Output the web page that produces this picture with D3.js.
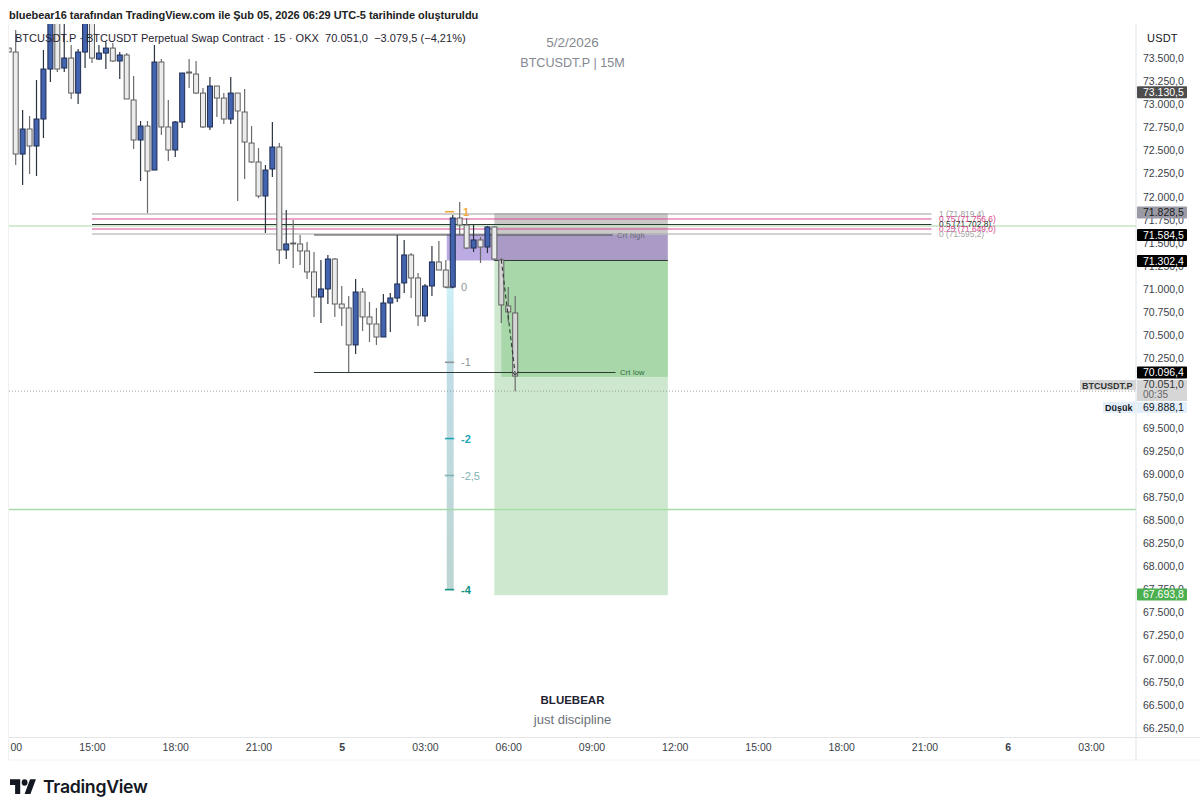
<!DOCTYPE html>
<html><head><meta charset="utf-8">
<script src="https://cdnjs.cloudflare.com/ajax/libs/d3/7.8.5/d3.min.js"></script>
<style>html,body{margin:0;padding:0;background:#fff}svg{display:block}text{font-family:"Liberation Sans",Arial,sans-serif}</style>
</head><body><svg id="c" width="1200" height="812"></svg>
<script>
const startTime = "2026-02-04T12:00:00Z";
const opens  = [73601,73558,72454,72725,72541,72833,73374,74000,73385,73493,73114,73558,74000,73482,73547,73601,73461,73526,73039,72606,72757,72281,73450,72747,72498,72801,73342,73320,73114,72747,73190,73060,72833,73114,72909,72573,72368,72000,72292,72530,71416,71491,71481,71405,71178,70907,70994,71318,70831,70788,70388,70961,70691,70615,70474,70842,70896,71059,71362,71113,70702,71026,71286,71199,71015,71762,71686,71437,71524,71448,71665,71308,70810,70734];
const highs  = [73601,73796,72931,72866,73255,73580,74100,74100,73861,73634,73591,74100,74100,73634,73666,73655,73558,73547,73298,72812,72812,73634,73482,73039,72812,73331,73482,73461,73169,73288,73190,73114,73288,73114,73158,72757,72519,72335,72801,72573,71849,71740,71578,71502,71394,71308,71362,71329,71026,70918,71102,71005,70853,70788,70940,70950,71578,71524,71383,71167,71048,71459,71513,71308,71794,71935,71762,71686,71556,71675,71675,71329,71015,70918];
const lows   = [73558,72335,72119,72238,72216,72628,73233,73342,73342,73050,72995,73385,73439,73472,73374,73450,73266,73050,72509,72162,71816,72281,72660,72379,72422,72736,73169,73104,72736,72714,72855,72779,72779,71946,72184,72357,71978,71600,72206,71264,71318,71221,71253,71102,70691,70626,70831,70691,70593,70096,70290,70539,70420,70388,70474,70528,70853,70950,70896,70593,70637,70918,71199,71005,71005,71578,71427,71394,71275,71383,71297,70626,70637,69888];
const closes = [73558,72454,72725,72541,72833,73374,74000,73374,73493,73114,73558,74000,73493,73547,73601,73461,73526,73050,72606,72757,72270,73450,72747,72498,72801,73331,73331,73114,72747,73190,73060,72833,73114,72920,72584,72368,72000,72281,72530,71416,71481,71481,71405,71178,70907,70994,71318,70831,70788,70388,70961,70691,70615,70474,70842,70896,71048,71362,71113,70702,71026,71286,71199,71015,71762,71686,71437,71524,71448,71665,71318,70821,70745,70051];

const yTicks = d3.range(66250, 73501, 250);
const hiddenTicks = [70000, 69750];
const timeTicks = ["2026-02-04T12:00Z","2026-02-04T15:00Z","2026-02-04T18:00Z","2026-02-04T21:00Z","2026-02-05T00:00Z","2026-02-05T03:00Z","2026-02-05T06:00Z","2026-02-05T09:00Z","2026-02-05T12:00Z","2026-02-05T15:00Z","2026-02-05T18:00Z","2026-02-05T21:00Z","2026-02-06T00:00Z","2026-02-06T03:00Z"];

const levelPrices = [71805,71751,71692,71643,71589];
const levelLabels = ["1 (71.819,4)","0.75 (71.756,6)","0.5 (71.702,8)","0.25 (71.649,0)","0 (71.595,2)"];
const levelColors = ["#9c9c9c","#d9488f","#2a3a2e","#d9488f","#a5a5a5"];
const fibLevels = [71830,71010,70200,69375,68975,67740];
const fibLabels = ["1","0","-1","-2","-2,5","-4"];
const fibColors = ["#f2a93b","#8f9598","#8f9598","#22a5b5","#7fb3b5","#12917f"];
const greenLevels = [71675,68607];
const greenColors = ["#c4e3c5","#a6dca8"];
const tagPrices = [73130.5,71828.5,71584.5,71302.4,70096.4,67693.8];
const tagFills = ["#4d4d4d","#9a9aa6","#000000","#000000","#000000","#4caf50"];
const tagInk = ["#fff","#1a1a1a","#fff","#fff","#fff","#fff"];
const crtPrices = [71584.5,70096.4];
const crtLabels = ["Crt high","Crt low"];
const lastPrice = 70051, lowPrice = 69888.1;

const W=1200,H=812,L=9,R=1136,T=24,B=737;
const svg=d3.select("#c");
const yS=d3.scaleLinear().domain([72000,67000]).range([196,658]);
const xS=d3.scaleUtc().domain([new Date("2026-02-04T15:00Z"),new Date("2026-02-05T03:00Z")]).range([92,425]);
const t0=new Date(startTime).getTime();
const times=opens.map((_,i)=>new Date(t0+i*9e5));
const tm=(s)=>new Date("2026-02-"+s+"Z");
const fmt=d3.formatLocale({decimal:",",thousands:".",grouping:[3],currency:["",""]}).format(",.1f");

const defs=svg.append("defs");
defs.append("clipPath").attr("id","pane").append("rect").attr("x",L).attr("y",T).attr("width",R-L).attr("height",B-T);
const g=defs.append("linearGradient").attr("id","fibg").attr("x1",0).attr("x2",0).attr("y1",0).attr("y2",1);
g.append("stop").attr("offset","0").attr("stop-color","#cdf0f8");
g.append("stop").attr("offset","0.3").attr("stop-color","#c0dde6");
g.append("stop").attr("offset","1").attr("stop-color","#bdd5d1");

const pane=svg.append("g").attr("clip-path","url(#pane)");
const rect=(t1,t2,p1,p2,fill)=>pane.append("rect").attr("x",xS(tm(t1))).attr("width",xS(tm(t2))-xS(tm(t1))).attr("y",yS(p1)).attr("height",yS(p2)-yS(p1)).attr("fill",fill);
rect("05T05:30","05T11:45",71302,67680,"#cde8cf");
rect("05T05:45","05T11:45",71302,70042,"#a8d7a9");
rect("05T05:30","05T11:45",71815,71584,"#c9c9c9");
rect("05T05:30","05T11:45",71584,71302,"#a99bc5");
rect("05T03:47","05T05:30",71584,71302,"#bcaae2");
pane.append("rect").attr("x",xS(tm("05T03:47"))).attr("width",xS(tm("05T04:02"))-xS(tm("05T03:47"))).attr("y",yS(71010)).attr("height",yS(67740)-yS(71010)).attr("fill","url(#fibg)");
pane.selectAll("line.gl").data(greenLevels).join("line").attr("class","gl").attr("x1",L).attr("x2",R).attr("y1",d=>yS(d)).attr("y2",d=>yS(d)).attr("stroke",(d,i)=>greenColors[i]).attr("stroke-width",1.6);
pane.append("line").attr("x1",L).attr("x2",R).attr("y1",yS(lowPrice)).attr("y2",yS(lowPrice)).attr("stroke","#8a8a8a").attr("stroke-width",.8).attr("stroke-dasharray","1 2");
pane.selectAll("line.lv").data(levelPrices).join("line").attr("class","lv").attr("x1",xS(tm("04T15:00"))).attr("x2",xS(tm("05T21:15"))).attr("y1",d=>yS(d)).attr("y2",d=>yS(d)).attr("stroke",(d,i)=>levelColors[i]).attr("stroke-width",1.1);
svg.selectAll("text.lvt").data(levelPrices).join("text").attr("class","lvt").attr("x",939).attr("y",d=>yS(d)+3).attr("font-size",8.4).attr("fill",(d,i)=>levelColors[i]).text((d,i)=>levelLabels[i]);
pane.selectAll("line.fb").data(fibLevels).join("line").attr("class","fb").attr("x1",xS(tm("05T03:43"))).attr("x2",xS(tm("05T04:03"))).attr("y1",d=>yS(d)).attr("y2",d=>yS(d)).attr("stroke",(d,i)=>fibColors[i]).attr("stroke-width",1.6);
svg.selectAll("text.fbt").data(fibLevels).join("text").attr("class","fbt").attr("x",(d,i)=>i?461:463).attr("y",d=>yS(d)+4).attr("font-size",11).attr("font-weight",(d,i)=>(i==3||i==5||i==0)?"700":"400").attr("fill",(d,i)=>fibColors[i]).text((d,i)=>fibLabels[i]);
const crtEnd=["05T09:46","05T09:52"];
const crtInk=["#44494d","#2d3a33"];
pane.selectAll("line.cr").data(crtPrices).join("line").attr("class","cr").attr("x1",xS(tm("04T23:00"))).attr("x2",(d,i)=>xS(tm(crtEnd[i]))).attr("y1",d=>yS(d)+.6).attr("y2",d=>yS(d)+.6).attr("stroke",(d,i)=>crtInk[i]).attr("stroke-width",1.2);
svg.selectAll("text.crt").data(crtPrices).join("text").attr("class","crt").attr("x",(d,i)=>i?620:617).attr("y",d=>yS(d)+3.5).attr("font-size",7.5).attr("fill",(d,i)=>i?"#2f6b3e":"#666a72").attr("letter-spacing",.2).text((d,i)=>crtLabels[i]);
pane.append("line").attr("x1",xS(tm("05T05:30"))).attr("x2",xS(tm("05T11:45"))).attr("y1",yS(71302)).attr("y2",yS(71302)).attr("stroke","#2d3a33").attr("stroke-width",1);

const cd=pane.selectAll("g.cd").data(times).join("g").attr("class","cd");
cd.append("line").attr("x1",d=>xS(d)).attr("x2",d=>xS(d)).attr("y1",(d,i)=>yS(highs[i])).attr("y2",(d,i)=>yS(lows[i])).attr("stroke",(d,i)=>closes[i]>opens[i]?"#2c3340":"#6b6b6b").attr("stroke-width",1.2);
cd.append("rect").attr("x",d=>xS(d)-2.5).attr("width",5).attr("y",(d,i)=>yS(Math.max(opens[i],closes[i]))).attr("height",(d,i)=>Math.max(.5,Math.abs(yS(opens[i])-yS(closes[i])))).attr("fill",(d,i)=>closes[i]>opens[i]?"#4263ae":(i>70?"#d5d5d5":"#ececec")).attr("stroke",(d,i)=>closes[i]>opens[i]?"#1e2c52":"#5f5f5f").attr("stroke-width",1);
pane.append("line").attr("x1",xS(tm("05T05:45"))).attr("y1",yS(71310)).attr("x2",xS(tm("05T06:15"))).attr("y2",yS(70070)).attr("stroke","#2b3a30").attr("stroke-width",1.1).attr("stroke-dasharray","4 3");
pane.append("path").attr("d",d3.line()([[xS(tm("05T06:15"))-3,yS(70100)],[xS(tm("05T06:15")),yS(70060)],[xS(tm("05T06:15"))+3,yS(70100)]])).attr("fill","none").attr("stroke","#2b3a30");

const frame=(x1,y1,x2,y2,c)=>svg.append("line").attr("x1",x1).attr("y1",y1).attr("x2",x2).attr("y2",y2).attr("stroke",c);
frame(L-.5,24,L-.5,760,"#f0f0f0");frame(R,24,R,760,"#dfe1e5");frame(L,737.5,W,737.5,"#e6e6e6");frame(L,760,W,760,"#f2f2f2");

const ya=svg.append("g").attr("transform",`translate(${R},0.7)`).call(d3.axisRight(yS).tickValues(yTicks.filter(d=>!hiddenTicks.includes(d))).tickFormat(fmt).tickSize(0).tickPadding(7));
ya.select(".domain").remove();
ya.selectAll("text").attr("font-size",10.5).attr("fill","#3a3e48").attr("font-family","Liberation Sans");
const firstTick=new Date(timeTicks[0]).getTime();
const xa=svg.append("g").attr("transform","translate(0,737)").call(d3.axisBottom(xS).tickValues(timeTicks.map(d=>new Date(d))).tickFormat(d=>{const h=d.getUTCHours();if(d.getTime()===firstTick)return "00";return h===0?String(d.getUTCDate()):d3.utcFormat("%H:%M")(d)}).tickSize(0).tickPadding(6.5));
xa.select(".domain").remove();
xa.selectAll("text").attr("font-size",10.5).attr("fill","#3a3e48").attr("font-family","Liberation Sans").attr("font-weight",d=>d.getUTCHours()===0?"700":"400").attr("dx",d=>d.getTime()===firstTick?7:0);

const tags=svg.selectAll("g.tg").data(tagPrices).join("g").attr("class","tg");
tags.append("rect").attr("x",1137).attr("width",50).attr("y",d=>yS(d)-5.4).attr("height",12).attr("rx",1).attr("fill",(d,i)=>tagFills[i]);
tags.append("text").attr("x",1143).attr("y",d=>yS(d)+4.2).attr("font-size",10.5).attr("fill",(d,i)=>tagInk[i]).text(d=>fmt(d));
svg.append("rect").attr("x",1137).attr("y",380).attr("width",50).attr("height",21).attr("fill","#d6d6d6");
svg.append("text").attr("x",1143).attr("y",388).attr("font-size",10.5).attr("fill","#333").text(fmt(lastPrice));
svg.append("text").attr("x",1143).attr("y",398).attr("font-size",10).attr("fill","#666").text("00:35");
svg.append("rect").attr("x",1080).attr("y",380).attr("width",56).attr("height",10).attr("fill","#d6d6d6");
svg.append("text").attr("x",1082).attr("y",388.5).attr("font-size",9).attr("font-weight",700).attr("fill","#333").text("BTCUSDT.P");
svg.append("rect").attr("x",1103).attr("y",402).attr("width",32.5).attr("height",11).attr("fill","#e3eefb");
svg.append("text").attr("x",1105).attr("y",410.5).attr("font-size",9).attr("font-weight",700).attr("fill","#131722").text("Düşük");
svg.append("rect").attr("x",1137).attr("y",402).attr("width",50).attr("height",11).attr("fill","#e3eefb");
svg.append("text").attr("x",1143).attr("y",411).attr("font-size",10.5).attr("fill","#131722").text(fmt(lowPrice));
svg.append("text").attr("x",1147).attr("y",42).attr("font-size",11).attr("fill","#131722").attr("letter-spacing",.2).text("USDT");

svg.append("text").attr("x",9).attr("y",19).attr("font-size",11).attr("font-weight",700).attr("fill","#222").attr("letter-spacing",-.03).text("bluebear16 tarafından TradingView.com ile Şub 05, 2026 06:29 UTC-5 tarihinde oluşturuldu");
svg.append("text").attr("x",15).attr("y",42).attr("font-size",11).attr("fill","#1f2330").attr("letter-spacing",.02).attr("xml:space","preserve").text("BTCUSDT.P · BTCUSDT Perpetual Swap Contract · 15 · OKX  70.051,0  −3.079,5 (−4,21%)");
const center=(y,t,fs,w,c)=>svg.append("text").attr("x",572.5).attr("y",y).attr("text-anchor","middle").attr("font-size",fs).attr("font-weight",w).attr("fill",c).text(t);
center(47,"5/2/2026",13.5,400,"#858890");
center(67,"BTCUSDT.P | 15M",12.6,400,"#858890");
center(704,"BLUEBEAR",11.5,700,"#1f2330");
center(724,"just discipline",13,400,"#6c6f78");

const lg=svg.append("g").attr("transform","translate(10,776) scale(.73,.82)").attr("fill","#131722");
lg.append("path").attr("d","M14 22H7V11H0V4h14v18zM28 22h-8l7.5-18h8L28 22z");
lg.append("circle").attr("cx",20).attr("cy",8).attr("r",4);
svg.append("text").attr("x",43).attr("y",792.5).attr("font-size",17.7).attr("font-weight",600).attr("fill","#131722").style("font-family","Inter").attr("letter-spacing",-.3).text("TradingView");
</script></body></html>
